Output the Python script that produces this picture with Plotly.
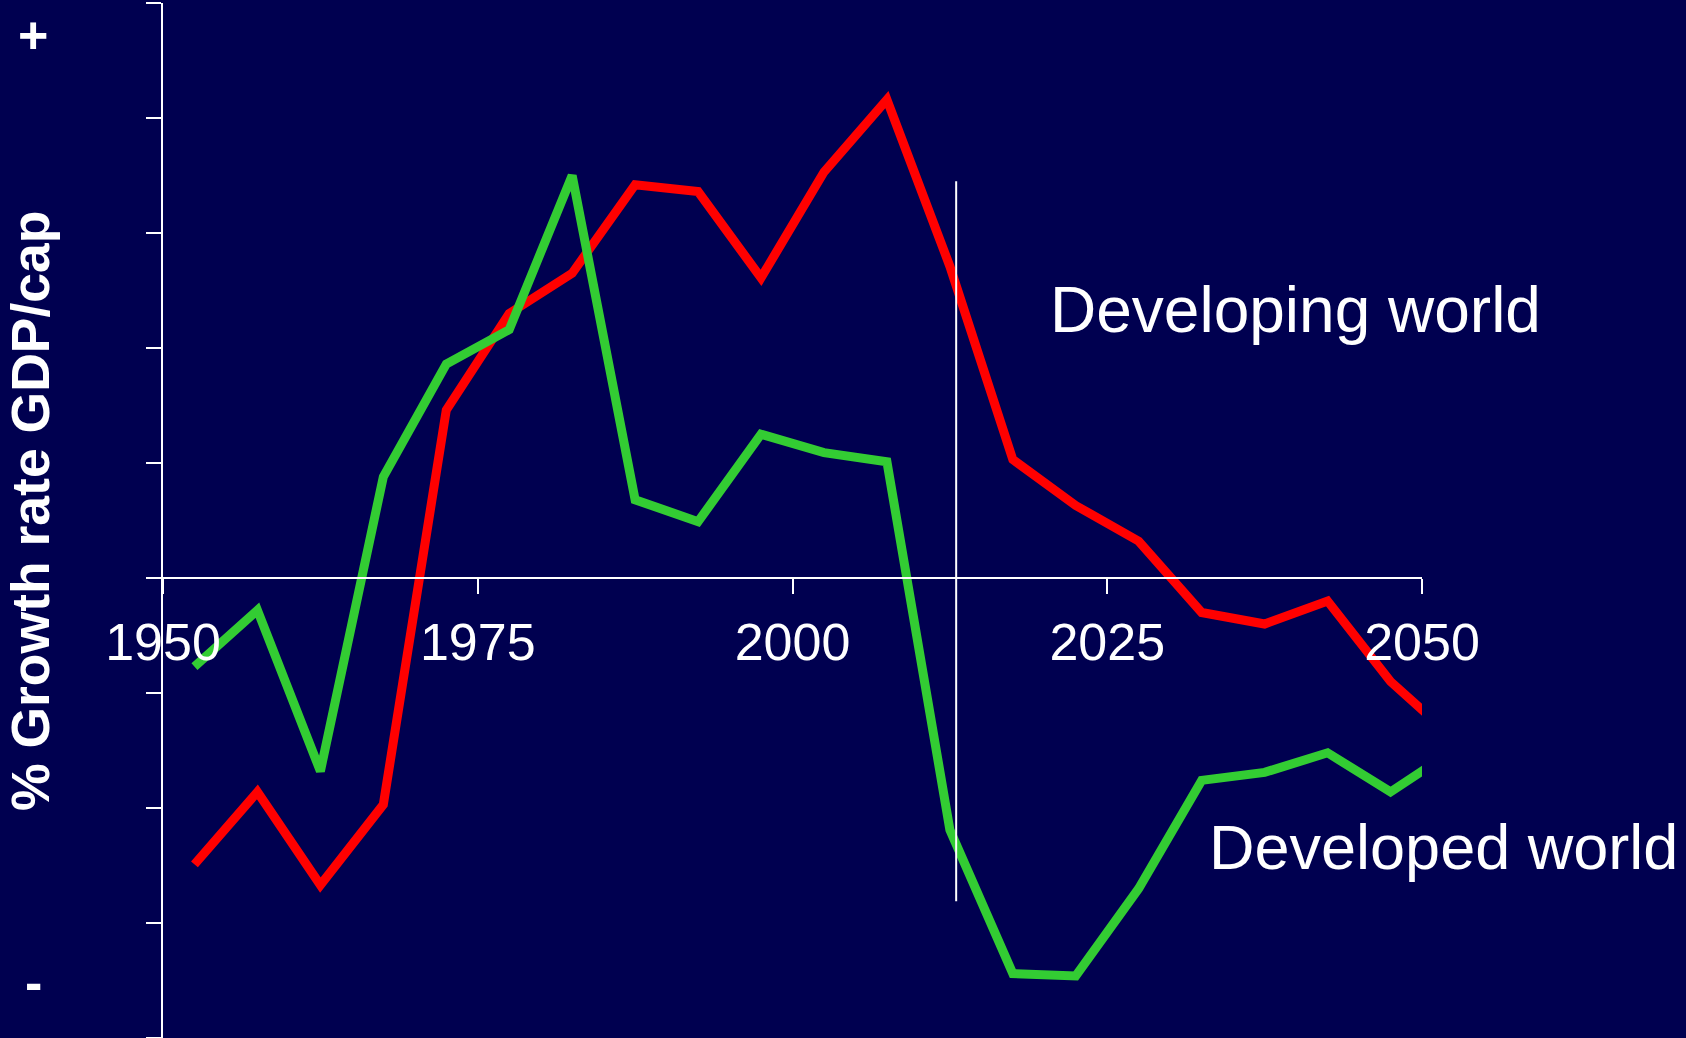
import plotly.graph_objects as go

# ---- data ----
years = [1952.5, 1957.5, 1962.5, 1967.5, 1972.5, 1977.5, 1982.5, 1987.5, 1992.5,
         1997.5, 2002.5, 2007.5, 2012.5, 2017.5, 2022.5, 2027.5, 2032.5, 2037.5,
         2042.5, 2047.5, 2052.5]
developing = [-2.49, -1.86, -2.67, -1.97, 1.46, 2.30, 2.65, 3.42, 3.36,
              2.61, 3.53, 4.16, 2.71, 1.03, 0.63, 0.32, -0.30, -0.40,
              -0.20, -0.90, -1.39]
developed = [-0.77, -0.28, -1.68, 0.88, 1.86, 2.16, 3.50, 0.68, 0.49,
             1.25, 1.09, 1.01, -2.19, -3.44, -3.46, -2.70, -1.76, -1.69,
             -1.52, -1.86, -1.50]
x_ticks = [1950, 1975, 2000, 2025, 2050]
x_tick_labels = ["1950", "1975", "2000", "2025", "2050"]
y_ticks = [-4, -3, -2, -1, 0, 1, 2, 3, 4, 5]
divider_year = 2013
divider_span = [-2.81, 3.45]

BG = "#000050"
FONT = "Liberation Sans, Arial, sans-serif"
W, H = 1686, 1038
ML, MR, MT, MB = 163, 264, 3, 0
Y_MIN, Y_MAX = -4, 5

fig = go.Figure()
fig.add_trace(go.Scatter(x=years, y=developing, mode="lines", name="Developing world",
                         line=dict(color="#ff0000", width=9), showlegend=False))
fig.add_trace(go.Scatter(x=years, y=developed, mode="lines", name="Developed world",
                         line=dict(color="#33cc33", width=9), showlegend=False))

fig.add_shape(type="line", x0=divider_year, x1=divider_year,
              y0=divider_span[0], y1=divider_span[1], xref="x", yref="y",
              line=dict(color="white", width=2), layer="above")

plot_w = W - ML - MR
def px_to_paper_x(px):
    return (px - ML) / plot_w

fig.add_annotation(text="Developing world", x=2020.3, y=2.33, xref="x", yref="y",
                   xanchor="left", yanchor="middle", showarrow=False,
                   font=dict(family=FONT, size=64, color="white"))
fig.add_annotation(text="Developed world", x=2032.9, y=-2.34, xref="x", yref="y",
                   xanchor="left", yanchor="middle", showarrow=False,
                   font=dict(family=FONT, size=63, color="white"))
fig.add_annotation(text="<b>% Growth rate GDP/cap</b>", textangle=-90,
                   x=px_to_paper_x(30), y=(H - MB - 511) / (H - MT - MB),
                   xref="paper", yref="paper", xanchor="center", yanchor="middle",
                   showarrow=False, font=dict(family=FONT, size=53.5, color="white"))
fig.add_annotation(text="<b>+</b>", x=px_to_paper_x(33), y=(H - MB - 35) / (H - MT - MB),
                   xref="paper", yref="paper", xanchor="center", yanchor="middle",
                   showarrow=False, font=dict(family=FONT, size=52, color="white"))
fig.add_annotation(text="<b>-</b>", x=px_to_paper_x(33), y=(H - MB - 982) / (H - MT - MB),
                   xref="paper", yref="paper", xanchor="center", yanchor="middle",
                   showarrow=False, font=dict(family=FONT, size=52, color="white"))

fig.update_layout(
    width=W, height=H,
    margin=dict(l=ML, r=MR, t=MT, b=MB, pad=0),
    paper_bgcolor=BG, plot_bgcolor=BG,
    xaxis=dict(range=[1950, 2050], showgrid=False, zeroline=False,
               anchor="free", position=(0 - Y_MIN) / (Y_MAX - Y_MIN),
               showline=True, linecolor="white", linewidth=2,
               ticks="outside", ticklen=15, tickwidth=2, tickcolor="white",
               tickvals=x_ticks, ticktext=x_tick_labels,
               tickfont=dict(family=FONT, size=52, color="white"),
               ticklabelstandoff=4),
    yaxis=dict(range=[Y_MIN, Y_MAX], showgrid=False, zeroline=False,
               showline=True, linecolor="white", linewidth=2,
               ticks="outside", ticklen=15, tickwidth=2, tickcolor="white",
               tickvals=y_ticks, showticklabels=False),
)

fig.write_html("out.html")
